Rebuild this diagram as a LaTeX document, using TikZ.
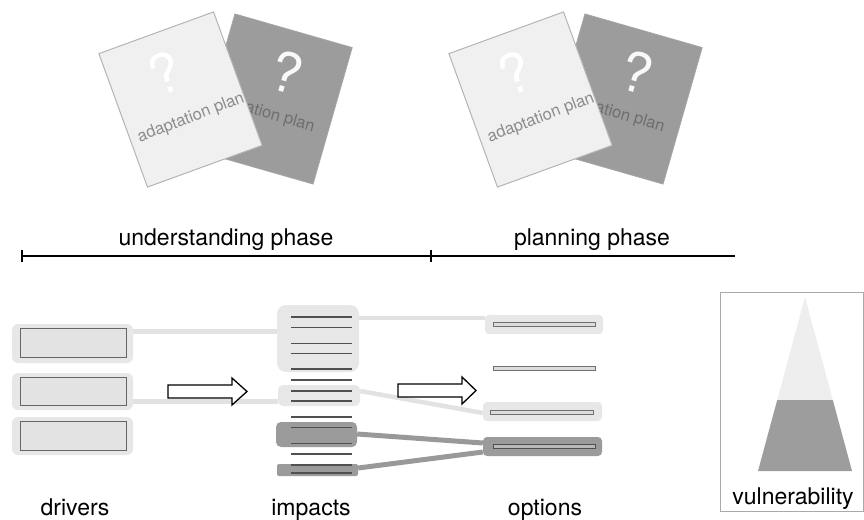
\documentclass[tikz,border=0pt]{standalone}
\usepackage{fontspec}
\setmainfont{TeX Gyre Heros}
\usetikzlibrary{calc,backgrounds}
\definecolor{doclightc}{HTML}{F0F0F0}
\definecolor{docedge}{HTML}{B4B4B4}
\definecolor{docdarkc}{HTML}{9C9C9C}
\definecolor{docdarkedge}{HTML}{A6A6A6}
\definecolor{doctextlight}{HTML}{8C8C8C}
\definecolor{doctextdark}{HTML}{6E6E6E}
\definecolor{boxlight}{HTML}{E7E7E7}
\definecolor{boxdark}{HTML}{9B9B9B}
\definecolor{drvfill}{HTML}{E3E3E3}
\definecolor{drvedge}{HTML}{666666}
\definecolor{optfill}{HTML}{DCDCDC}
\definecolor{optedge}{HTML}{707070}
\definecolor{connlight}{HTML}{E2E2E2}
\definecolor{conndark}{HTML}{999999}
\definecolor{barc}{HTML}{505050}
\definecolor{vedge}{HTML}{AAAAAA}
\definecolor{trilight}{HTML}{EEEEEE}
\definecolor{tridark}{HTML}{9D9D9D}
\begin{document}
\begin{tikzpicture}[x=1pt,y=-1pt,
  doclight/.style={draw=docedge, fill=doclightc, line width=1pt, minimum width=122pt, minimum height=142pt, inner sep=0pt},
  docdark/.style={draw=docdarkedge, fill=docdarkc, line width=0.8pt, minimum width=122pt, minimum height=142pt, inner sep=0pt},
  qmark/.style={font=\fontsize{55}{60}\selectfont, inner sep=0pt},
  doctext/.style={font=\fontsize{16.5}{18}\selectfont, inner sep=0pt},
  lbl/.style={font=\fontsize{23}{27}\selectfont, text=black, inner sep=0pt, anchor=base},
  lbox/.style={fill=boxlight, rounded corners=6pt, inner sep=0pt},
  dbox/.style={fill=boxdark, rounded corners=5pt, inner sep=0pt},
  drvin/.style={draw=drvedge, fill=drvfill, line width=0.9pt, minimum width=106pt, minimum height=29pt, inner sep=0pt},
  optin/.style={draw=optedge, fill=optfill, line width=0.9pt, minimum width=102pt, minimum height=4pt, inner sep=0pt},
  lconn/.style={draw=connlight, line width=4.5pt},
  dconn/.style={draw=conndark, line width=5pt},
  ibar/.style={draw=barc, line width=1.6pt},
  hollow/.style={draw=black, fill=white, line width=1.3pt, line join=miter},
  phaseline/.style={draw=black, line width=2.2pt},
]
\useasboundingbox (0,0) rectangle (864,519);

% ---------- adaptation plan documents ----------
\foreach \dx/\n in {0/a,350/b}{
  \node[docdark, rotate=-16] (dark\n) at (274+\dx,99) {};
  \node[doctext, text=doctextdark, rotate=-16] (darktxt\n) at (260+\dx,112) {adaptation plan};
  \node[qmark, text=white!95!gray, rotate=-16] (darkq\n) at (287+\dx,72) {?};
  \node[doclight, rotate=20] (light\n) at (180.5+\dx,99.5) {};
  \node[qmark, text=white, rotate=20] (lightq\n) at (165+\dx,73) {?};
  \node[doctext, text=doctextlight, rotate=21] (lighttxt\n) at (191+\dx,118) {adaptation plan};
}

% ---------- phases ----------
\node[lbl] (und) at (226,245) {understanding phase};
\node[lbl] (plan) at (592,245) {planning phase};
\coordinate (p0) at (22,256);
\coordinate (p1) at (431,256);
\coordinate (p2) at (735,256);
\draw[phaseline] (p0) -- (p2);
\draw[phaseline] ($(p0)+(0,-6)$) -- ($(p0)+(0,6)$);
\draw[phaseline] ($(p1)+(0,-6)$) -- ($(p1)+(0,6)$);

% ---------- drivers ----------
\node[lbox, minimum width=121pt, minimum height=39pt] (d1o) at (72.5,343.5) {};
\node[lbox, minimum width=121pt, minimum height=37pt] (d2o) at (72.5,391.5) {};
\node[lbox, minimum width=121pt, minimum height=38pt] (d3o) at (72.5,436) {};
\node[drvin] (d1i) at (73,342.5) {};
\node[drvin, minimum height=28pt] (d2i) at (73,391) {};
\node[drvin] (d3i) at (73,435.5) {};

% ---------- impacts ----------
\node[lbox, rounded corners=9pt, minimum width=82pt, minimum height=67pt] (i1) at (318,338.5) {};
\node[lbox, rounded corners=5pt, minimum width=82pt, minimum height=21pt] (i2) at (319,395.5) {};
\node[dbox, minimum width=81pt, minimum height=25pt] (i3) at (316.5,434.5) {};
\node[dbox, rounded corners=2pt, minimum width=81pt, minimum height=12pt] (i4) at (317.5,470) {};
\foreach \yy in {316.7,327.3,343.3,353.3,369,380,390.7,401,416.7,427.3,443.3,454,464.7,472.7}{
  \draw[ibar] (291,\yy) -- (352,\yy);
}

% ---------- options ----------
\node[lbox, rounded corners=4pt, minimum width=118pt, minimum height=19pt] (o1) at (544,324.5) {};
\node[lbox, rounded corners=4pt, minimum width=119pt, minimum height=19pt] (o3) at (542.5,411.5) {};
\node[dbox, rounded corners=4pt, minimum width=119pt, minimum height=19pt] (o4) at (542.5,446.5) {};
\node[optin] (o1i) at (544,324) {};
\node[optin] (o2i) at (544,368.5) {};
\node[optin, minimum width=103pt] (o3i) at (541.5,412.5) {};
\node[optin, fill=boxdark!70!white, draw=barc] (o4i) at (544,446.5) {};

% ---------- connectors ----------
\coordinate (c1s) at ($(d1i.north east)+(0,4)$);
\coordinate (c2s) at ($(d2i.south east)+(0,-4)$);
\coordinate (c3s) at ($(i1.north east)+(0,13)$);
\begin{pgfonlayer}{background}
  \draw[lconn] (c1s) -- (c1s -| i1.west);
  \draw[lconn] (c2s) -- (c2s -| i2.west);
  \draw[lconn] (c3s) -- (c3s -| o1.west);
  \draw[lconn] ($(i2.east)+(0,-4.5)$) -- ($(o3.west)+(0,1.5)$);
  \draw[dconn] ($(i3.east)+(0,-0.5)$) -- ($(o4.west)+(0,-3.5)$);
  \draw[dconn] ($(i4.east)+(0,-2)$) -- ($(o4.west)+(0,5.5)$);
\end{pgfonlayer}

% ---------- hollow arrows ----------
\draw[hollow] (168,385) -- (232,385) -- (232,378) -- (247,391.5) -- (232,405) -- (232,398) -- (168,398) -- cycle;
\draw[hollow] (398,384) -- (462,384) -- (462,377) -- (476,390.5) -- (462,404) -- (462,397) -- (398,397) -- cycle;

% ---------- labels ----------
\node[lbl] (drv) at (75,515.5) {drivers};
\node[lbl] (imp) at (311,515.5) {impacts};
\node[lbl] (opt) at (545,515.5) {options};

% ---------- vulnerability ----------
\node[draw=vedge, line width=1pt, minimum width=143pt, minimum height=219pt, inner sep=0pt] (vbox) at (791.5,401.5) {};
\fill[trilight] (805,297) -- (777.2,400) -- (832.8,400) -- cycle;
\fill[tridark] (777.2,400) -- (832.8,400) -- (852,471) -- (758,471) -- cycle;
\node[lbl] (vul) at (793,504) {vulnerability};
\end{tikzpicture}
\end{document}
